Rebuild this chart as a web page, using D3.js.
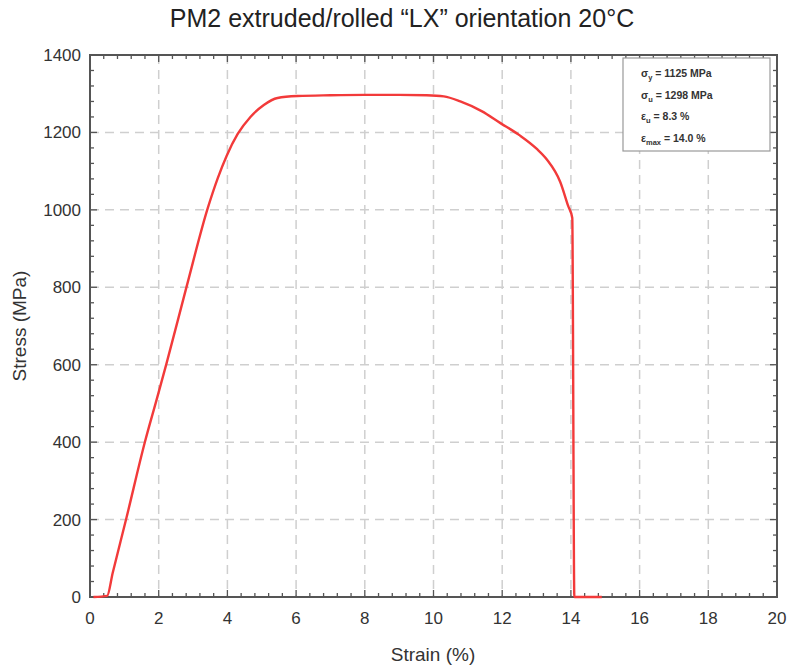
<!DOCTYPE html>
<html>
<head>
<meta charset="utf-8">
<script src="https://cdn.jsdelivr.net/npm/d3@7"></script>
<style>
  body { margin: 0; background: #fff; }
  text { font-family: "Liberation Sans", Arial, sans-serif; }
</style>
</head>
<body>
<svg id="chart" width="788" height="666"></svg>
<script>
// curve: strain (%) and stress (MPa)
const strain = [0.1, 0.5, 0.66, 1.06, 1.6, 1.94, 2.23, 2.81, 3.43, 3.72, 3.98, 4.3, 4.67, 5.06, 5.46, 6.04, 7.0, 8.0, 9.0, 9.8, 10.3, 10.78, 11.4, 11.95, 12.5, 13.0, 13.3, 13.69, 13.92, 14.04, 14.1, 14.9]
const stress = [0, 3, 62, 204, 401, 510, 604, 801, 1005, 1082, 1140, 1196, 1240, 1271, 1289, 1294, 1296, 1297, 1297, 1296, 1293, 1280, 1255, 1224, 1193, 1158, 1130, 1072, 1010, 979, 0, 0]

const xTicks = [0, 2, 4, 6, 8, 10, 12, 14, 16, 18, 20]
const yTicks = [0, 200, 400, 600, 800, 1000, 1200, 1400]
const legendLines = [
  ["σ", "y", " = 1125 MPa"],
  ["σ", "u", " = 1298 MPa"],
  ["ε", "u", " = 8.3 %"],
  ["ε", "max", " = 14.0 %"]
]

const svg = d3.select("#chart")
const m = { left: 90, right: 777, top: 55, bottom: 597 }

const x = d3.scaleLinear().domain([0, 20]).range([m.left, m.right])
const y = d3.scaleLinear().domain([0, 1400]).range([m.bottom, m.top])

// grid
const grid = svg.append("g").attr("stroke", "#cfcfcf").attr("stroke-width", 1.5)
  .attr("stroke-dasharray", "9,6")
grid.selectAll("line.gx").data(xTicks.slice(1, -1)).join("line")
  .attr("x1", d => x(d)).attr("x2", d => x(d))
  .attr("y1", m.top).attr("y2", m.bottom)
grid.selectAll("line.gy").data(yTicks.slice(1, -1)).join("line")
  .attr("y1", d => y(d)).attr("y2", d => y(d))
  .attr("x1", m.left).attr("x2", m.right)

// minor and major ticks on all four sides, pointing in
const minorX = d3.range(0, 20.01, 0.4)
const minorY = d3.range(0, 1400.1, 40)
const isMajorX = d => xTicks.includes(Math.round(d * 10) / 10)
const tk = svg.append("g").attr("stroke", "#555").attr("stroke-width", 1.3)
tk.selectAll("line.bx").data(minorX).join("line")
  .attr("x1", d => x(d)).attr("x2", d => x(d))
  .attr("y1", m.bottom).attr("y2", d => m.bottom - (isMajorX(d) ? 7 : 4))
tk.selectAll("line.tx").data(minorX).join("line")
  .attr("x1", d => x(d)).attr("x2", d => x(d))
  .attr("y1", m.top).attr("y2", d => m.top + (isMajorX(d) ? 7 : 4))
tk.selectAll("line.ly").data(minorY).join("line")
  .attr("y1", d => y(d)).attr("y2", d => y(d))
  .attr("x1", m.left).attr("x2", d => m.left + (d % 200 === 0 ? 7 : 4))
tk.selectAll("line.ry").data(minorY).join("line")
  .attr("y1", d => y(d)).attr("y2", d => y(d))
  .attr("x1", m.right).attr("x2", d => m.right - (d % 200 === 0 ? 7 : 4))

// tick labels
svg.append("g").selectAll("text").data(xTicks).join("text")
  .attr("x", d => x(d)).attr("y", m.bottom + 27)
  .attr("text-anchor", "middle").attr("font-size", 17).attr("fill", "#333")
  .text(d => d)
svg.append("g").selectAll("text").data(yTicks).join("text")
  .attr("x", m.left - 9).attr("y", d => y(d) + 6)
  .attr("text-anchor", "end").attr("font-size", 17).attr("fill", "#333")
  .text(d => d)

// frame
svg.append("rect").attr("x", m.left).attr("y", m.top)
  .attr("width", m.right - m.left).attr("height", m.bottom - m.top)
  .attr("fill", "none").attr("stroke", "#555").attr("stroke-width", 2)

// the curve, drawn over the frame so the tail on the axis shows
svg.append("path").datum(stress)
  .attr("d", d3.line().x((d, i) => x(strain[i])).y(d => y(d)).curve(d3.curveMonotoneX))
  .attr("fill", "none").attr("stroke", "#f23a3a").attr("stroke-width", 2.4)
  .attr("stroke-linejoin", "round")

// legend box
const lg = svg.append("g").attr("transform", "translate(623,58)")
lg.append("rect").attr("width", 147).attr("height", 93)
  .attr("fill", "#fff").attr("stroke", "#999").attr("stroke-width", 1.2)
legendLines.forEach((l, i) => {
  const t = lg.append("text").attr("x", 18).attr("y", 19 + i * 21.5)
    .attr("font-size", 10.5).attr("font-weight", "bold").attr("fill", "#333")
  t.append("tspan").text(l[0])
  t.append("tspan").attr("font-size", 7.5).attr("dy", 3).text(l[1])
  t.append("tspan").attr("dy", -3).text(l[2])
})

// titles
svg.append("text").attr("x", 402).attr("y", 27).attr("text-anchor", "middle")
  .attr("font-size", 25).attr("fill", "#222")
  .text("PM2 extruded/rolled \u201CLX\u201D orientation 20°C")
svg.append("text").attr("x", 433).attr("y", 661).attr("text-anchor", "middle")
  .attr("font-size", 19).attr("fill", "#333").text("Strain (%)")
svg.append("text").attr("transform", "translate(26,326) rotate(-90)")
  .attr("text-anchor", "middle").attr("font-size", 19).attr("fill", "#333")
  .text("Stress (MPa)")
</script>
</body>
</html>
